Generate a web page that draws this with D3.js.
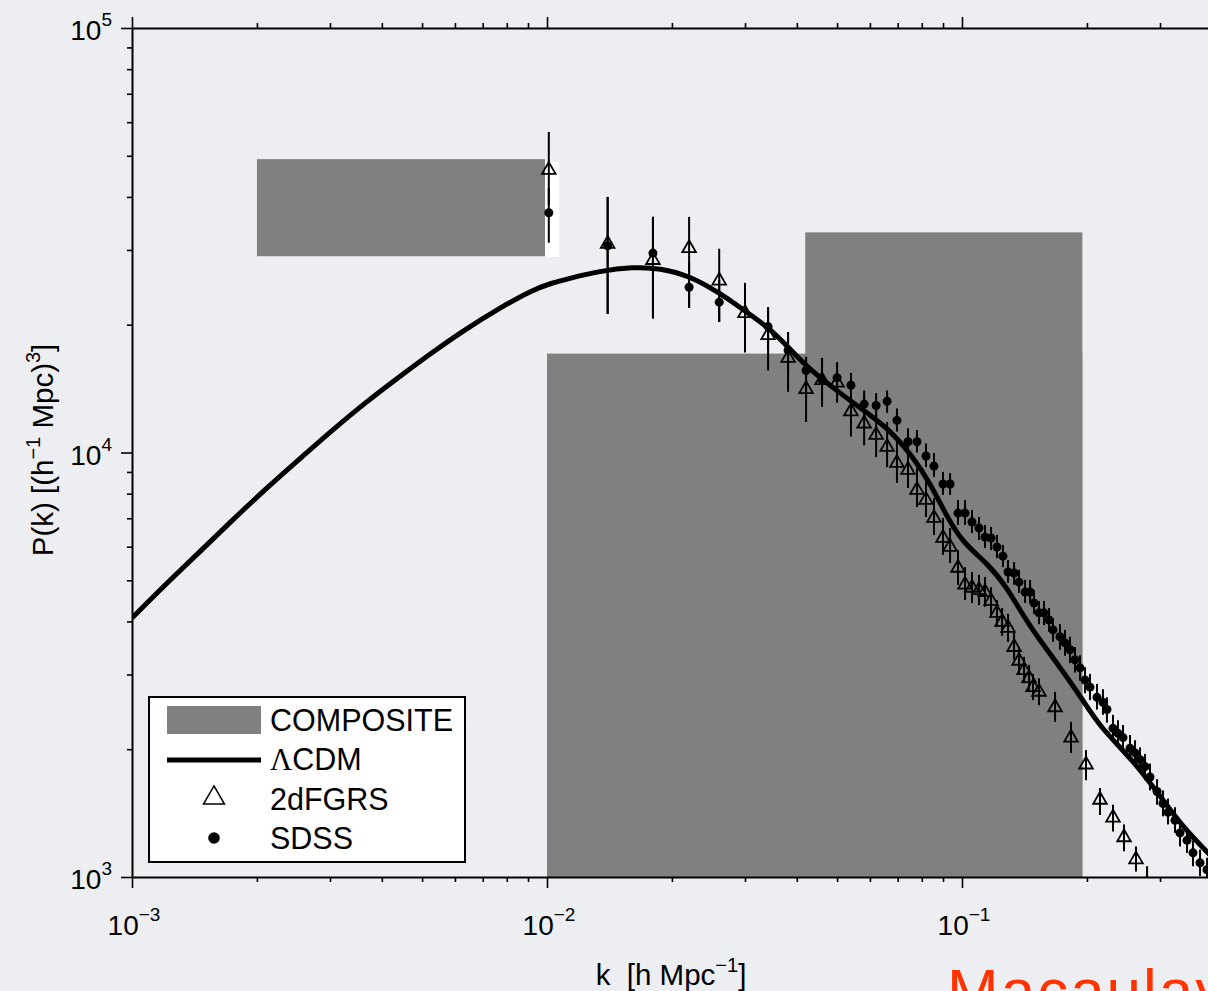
<!DOCTYPE html>
<html>
<head>
<meta charset="utf-8">
<script src="https://cdn.jsdelivr.net/npm/d3@7"></script>
<style>
  body { margin: 0; background: #eceef1; overflow: hidden; }
  svg { display: block; }
  text { font-family: "Liberation Sans", Arial, sans-serif; fill: #000; }
</style>
</head>
<body>
<svg id="chart" width="1208" height="991"></svg>
<script>
// COMPOSITE boxes: [kmin, kmax, Pmin, Pmax]
const compositeBoxes = [
  [0.002, 0.00989, 29000, 49100],
  [0.01, 0.195, 1000, 17100],
  [0.0419, 0.195, 1000, 33000]
]
// white patch behind the first data point
const maskBox = [0.00989, 0.0107, 28900, 48300]

// LCDM model curve
const lcdmK = [0.001, 0.001201, 0.00145, 0.001742, 0.002092, 0.002526, 0.003034, 0.003643, 0.0044, 0.005283,
  0.006346, 0.007662, 0.009203, 0.01028, 0.01117, 0.01342, 0.01611, 0.01873, 0.0221, 0.0261,
  0.0300, 0.0341, 0.0381, 0.0423, 0.04889, 0.05772, 0.06708, 0.07619, 0.08373, 0.09203,
  0.1006, 0.1149, 0.1283, 0.1435, 0.1722, 0.1956, 0.2150, 0.2582, 0.3050, 0.3406, 0.3959]
const lcdmP = [4075, 4875, 5812, 6916, 8181, 9627, 11270, 13090, 15060, 17200,
  19490, 21840, 24140, 25080, 25630, 26770, 27350, 27200, 26050, 23750,
  21540, 19750, 17720, 15900, 14190, 12600, 11300, 9760, 8477, 7050,
  6120, 5493, 4823, 3966, 3124, 2612, 2256, 1886, 1519, 1312, 1127]

// 2dFGRS
const twodfK = [0.0101, 0.0140, 0.0180, 0.0220, 0.0260, 0.0300, 0.0341, 0.0381, 0.0421, 0.0460,
  0.0500, 0.0540, 0.0581, 0.0621, 0.0660, 0.0697, 0.0741, 0.0779, 0.0819, 0.0856,
  0.0900, 0.0936, 0.0978, 0.1017, 0.1057, 0.1099, 0.1136, 0.1175, 0.1214, 0.1249,
  0.1291, 0.1335, 0.1372, 0.1411, 0.1451, 0.1483, 0.1533, 0.1676, 0.1831, 0.1990,
  0.2150, 0.2311, 0.2457, 0.2626, 0.2792]
const twodfP = [46300, 31000, 28400, 30300, 25400, 21300, 18900, 16700, 14100, 14800,
  14600, 12500, 11700, 11000, 10300, 9450, 9100, 8160, 7730, 7010,
  6290, 5990, 5350, 4880, 4800, 4740, 4690, 4470, 4190, 3990,
  3860, 3480, 3230, 3070, 2940, 2800, 2730, 2510, 2130, 1840,
  1520, 1380, 1240, 1100, 962]
const twodfLo = [38300, 21200, 20700, 21900, 20300, 17200, 15600, 13900, 11800, 12800,
  13100, 10900, 10400, 9760, 9240, 8480, 8250, 7440, 7050, 6390,
  5740, 5490, 4880, 4490, 4420, 4370, 4330, 4140, 3880, 3700,
  3580, 3250, 3010, 2860, 2730, 2610, 2540, 2320, 1960, 1690,
  1400, 1280, 1150, 1030, 883]
const twodfHi = [56900, 40000, 35900, 35900, 30200, 25100, 22000, 19200, 16800, 16700,
  16300, 14400, 13700, 12600, 11800, 10700, 10100, 9190, 8610, 7810,
  7010, 6640, 5890, 5370, 5230, 5150, 5090, 4820, 4490, 4300,
  4170, 3760, 3460, 3300, 3160, 3010, 2940, 2730, 2320, 1990,
  1620, 1480, 1330, 1180, 1060]

// SDSS
const sdssK = [0.0101, 0.0140, 0.0180, 0.0220, 0.0260, 0.0341, 0.0381, 0.0421, 0.0460, 0.0500,
  0.0540, 0.0581, 0.0621, 0.0660, 0.0697, 0.0741, 0.0779, 0.0819, 0.0856, 0.0900,
  0.0936, 0.0978, 0.1017, 0.1057, 0.1099, 0.1136, 0.1175, 0.1214, 0.1255, 0.1291,
  0.1335, 0.1372, 0.1419, 0.1459, 0.1491, 0.1533, 0.1576, 0.1621, 0.1657, 0.1722,
  0.1771, 0.1821, 0.1872, 0.1925, 0.1979, 0.2034, 0.2115, 0.2186, 0.2235, 0.2311,
  0.2376, 0.2443, 0.2540, 0.2612, 0.2685, 0.2761, 0.2838, 0.2951, 0.3050, 0.3136,
  0.3260, 0.3352, 0.3485, 0.3603, 0.3746, 0.3894]
const sdssP = [36700, 30700, 29500, 24500, 22600, 19800, 17400, 15600, 14800, 15000,
  14400, 13000, 12900, 13200, 11900, 10600, 10600, 9810, 9290, 8430,
  8430, 7200, 7200, 6860, 6640, 6320, 6290, 5990, 5700, 5230,
  5200, 4950, 4690, 4690, 4420, 4190, 4190, 4030, 3820, 3680,
  3560, 3430, 3250, 3110, 2910, 2800, 2650, 2580, 2480, 2240,
  2180, 2130, 2010, 1960, 1890, 1820, 1720, 1590, 1490, 1420,
  1360, 1270, 1220, 1140, 1080, 1040]
const sdssLo = [31200, 21200, 20700, 21900, 20300, 17400, 15500, 13900, 13200, 13700,
  13300, 12100, 12100, 12400, 11200, 9970, 10000, 9240, 8760, 7940,
  7940, 6750, 6750, 6460, 6220, 5960, 5890, 5640, 5370, 4930,
  4880, 4670, 4420, 4420, 4170, 3940, 3920, 3780, 3580, 3430,
  3320, 3190, 3030, 2900, 2710, 2610, 2480, 2410, 2310, 2090,
  2040, 1980, 1880, 1830, 1760, 1690, 1600, 1480, 1390, 1330,
  1270, 1180, 1140, 1060, 1005, 968]
const sdssHi = [42000, 40000, 35900, 28100, 25500, 22000, 19200, 16800, 16700, 16300,
  15400, 14000, 13800, 14000, 12700, 11400, 11300, 10500, 9970, 9000,
  8950, 7730, 7730, 7320, 7050, 6750, 6680, 6390, 6060, 5580,
  5520, 5290, 5010, 5010, 4740, 4470, 4470, 4300, 4070, 3940,
  3820, 3680, 3480, 3330, 3120, 3010, 2850, 2770, 2650, 2410,
  2340, 2280, 2160, 2100, 2020, 1950, 1850, 1700, 1600, 1530,
  1460, 1360, 1310, 1220, 1160, 1110]

// tick labels
const xMajor = [1e-3, 1e-2, 1e-1]
const xMajorExp = ["\u22123", "\u22122", "\u22121"]
const yMajor = [1e3, 1e4, 1e5]
const yMajorExp = ["3", "4", "5"]

const legendItems = ["COMPOSITE", "CDM", "2dFGRS", "SDSS"]

const svg = d3.select("#chart")
const x = d3.scaleLog().domain([1e-3, 1]).range([132, 1377])
const y = d3.scaleLog().domain([1e3, 1e5]).range([877, 28])
const grey = "#808080"

svg.append("rect").attr("width", 1208).attr("height", 991).attr("fill", "#eceef1")

svg.append("clipPath").attr("id", "plotclip")
  .append("rect")
  .attr("x", x.range()[0]).attr("y", y.range()[1])
  .attr("width", x.range()[1] - x.range()[0])
  .attr("height", y.range()[0] - y.range()[1])

const plot = svg.append("g").attr("clip-path", "url(#plotclip)")

// composite boxes
plot.selectAll("rect.box").data(compositeBoxes).join("rect")
  .attr("class", "box")
  .attr("x", d => x(d[0]))
  .attr("width", d => x(d[1]) - x(d[0]))
  .attr("y", d => y(d[3]))
  .attr("height", d => y(d[2]) - y(d[3]))
  .attr("fill", grey)

plot.append("rect")
  .attr("x", x(maskBox[0])).attr("width", x(maskBox[1]) - x(maskBox[0]))
  .attr("y", y(maskBox[3])).attr("height", y(maskBox[2]) - y(maskBox[3]))
  .attr("fill", "white")

// LCDM curve
const lcdm = lcdmK.map((k, i) => [k, lcdmP[i]])
plot.append("path")
  .datum(lcdm)
  .attr("fill", "none")
  .attr("stroke", "black")
  .attr("stroke-width", 5)
  .attr("stroke-linejoin", "round")
  .attr("d", d3.line().x(d => x(d[0])).y(d => y(d[1])).curve(d3.curveBasis))

// data points
const twodf = twodfK.map((k, i) => ({k: k, p: twodfP[i], lo: twodfLo[i], hi: twodfHi[i]}))
const sdss = sdssK.map((k, i) => ({k: k, p: sdssP[i], lo: sdssLo[i], hi: sdssHi[i]}))

function errorBars(data){
  plot.append("g").selectAll("line").data(data).join("line")
    .attr("x1", d => x(d.k)).attr("x2", d => x(d.k))
    .attr("y1", d => y(d.lo)).attr("y2", d => y(d.hi))
    .attr("stroke", "black")
    .attr("stroke-width", 2)
}
errorBars(twodf)
errorBars(sdss)

const tri = d3.symbol().type(d3.symbolTriangle).size(80)
plot.append("g").selectAll("path").data(twodf).join("path")
  .attr("d", tri)
  .attr("transform", d => `translate(${x(d.k)},${y(d.p)})`)
  .attr("fill", "none")
  .attr("stroke", "black")
  .attr("stroke-width", 1.8)

plot.append("g").selectAll("circle").data(sdss).join("circle")
  .attr("cx", d => x(d.k)).attr("cy", d => y(d.p))
  .attr("r", 4.5)
  .attr("fill", "black")

// axes
function styleTicks(g, majors, dir){
  g.select(".domain").attr("stroke-width", 2)
  g.selectAll(".tick line")
    .attr("stroke-width", 1.6)
    .each(function(d){
      const isMajor = majors.some(m => Math.abs(Math.log10(d) - Math.log10(m)) < 1e-6)
      const len = isMajor ? 11 : 5
      const line = d3.select(this)
      if (dir === "x") line.attr("y2", line.attr("y2") < 0 ? -len : len)
      else line.attr("x2", -len)
    })
}

svg.append("g")
  .attr("transform", `translate(0,${y.range()[0]})`)
  .call(d3.axisBottom(x).tickValues(x.ticks()).tickFormat("").tickSizeOuter(0))
  .call(g => styleTicks(g, xMajor, "x"))

svg.append("g")
  .attr("transform", `translate(0,${y.range()[1]})`)
  .call(d3.axisTop(x).tickValues(x.ticks()).tickFormat("").tickSizeOuter(0))
  .call(g => styleTicks(g, xMajor, "x"))

svg.append("g")
  .attr("transform", `translate(${x.range()[0]},0)`)
  .call(d3.axisLeft(y).tickValues(y.ticks()).tickFormat("").tickSizeOuter(0))
  .call(g => styleTicks(g, yMajor, "y"))

// tick labels
xMajor.forEach((v, i) => {
  const t = svg.append("text")
    .attr("x", x(v) + 2).attr("y", 935)
    .attr("text-anchor", "middle")
    .attr("font-size", 28)
  t.append("tspan").text("10")
  t.append("tspan").attr("dy", -14).attr("font-size", 19).text(xMajorExp[i])
})

yMajor.forEach((v, i) => {
  const t = svg.append("text")
    .attr("x", 112).attr("y", y(v) + 12)
    .attr("text-anchor", "end")
    .attr("font-size", 28)
  t.append("tspan").text("10")
  t.append("tspan").attr("dy", -14).attr("font-size", 19).text(yMajorExp[i])
})

// axis titles
{
  const t = svg.append("text")
    .attr("x", 671).attr("y", 985)
    .attr("text-anchor", "middle")
    .attr("font-size", 29.5)
    .style("white-space", "pre")
  t.append("tspan").text("k  [h Mpc")
  t.append("tspan").attr("dy", -13).attr("font-size", 20).text("\u22121")
  t.append("tspan").attr("dy", 13).text("]")
}
{
  const t = svg.append("text")
    .attr("transform", "translate(53,450) rotate(-90)")
    .attr("text-anchor", "middle")
    .attr("font-size", 29.5)
  t.append("tspan").text("P(k) [(h")
  t.append("tspan").attr("dy", -13).attr("font-size", 20).text("\u22121")
  t.append("tspan").attr("dy", 13).text(" Mpc)")
  t.append("tspan").attr("dy", -13).attr("font-size", 20).text("3")
  t.append("tspan").attr("dy", 13).text("]")
}

// legend
{
  const lg = svg.append("g")
  lg.append("rect")
    .attr("x", 149).attr("y", 697).attr("width", 316).attr("height", 165)
    .attr("fill", "white").attr("stroke", "black").attr("stroke-width", 2)

  lg.append("rect")
    .attr("x", 167).attr("y", 706).attr("width", 94).attr("height", 28)
    .attr("fill", grey)

  lg.append("line")
    .attr("x1", 167).attr("x2", 261).attr("y1", 760).attr("y2", 760)
    .attr("stroke", "black").attr("stroke-width", 5)

  lg.append("path")
    .attr("d", d3.symbol().type(d3.symbolTriangle).size(190)())
    .attr("transform", "translate(214,798)")
    .attr("fill", "none").attr("stroke", "black").attr("stroke-width", 1.5)

  lg.append("circle")
    .attr("cx", 214).attr("cy", 838).attr("r", 5.8).attr("fill", "black")

  const rows = [731, 770, 810, 849]
  legendItems.forEach((name, i) => {
    const t = lg.append("text")
      .attr("x", 270).attr("y", rows[i])
      .attr("font-size", 30.5)
    if (i === 1) {
      t.append("tspan").attr("font-family", "Liberation Serif").text("\u039b")
    }
    t.append("tspan").text(name)
  })
}

// footer credit
svg.append("text")
  .attr("x", 947).attr("y", 1012)
  .attr("font-family", "Lato, 'Open Sans', sans-serif")
  .attr("font-weight", 300)
  .attr("font-size", 62)
  .attr("letter-spacing", 2)
  .style("fill", "#ff3300")
  .text("Macaulay")
</script>
</body>
</html>
